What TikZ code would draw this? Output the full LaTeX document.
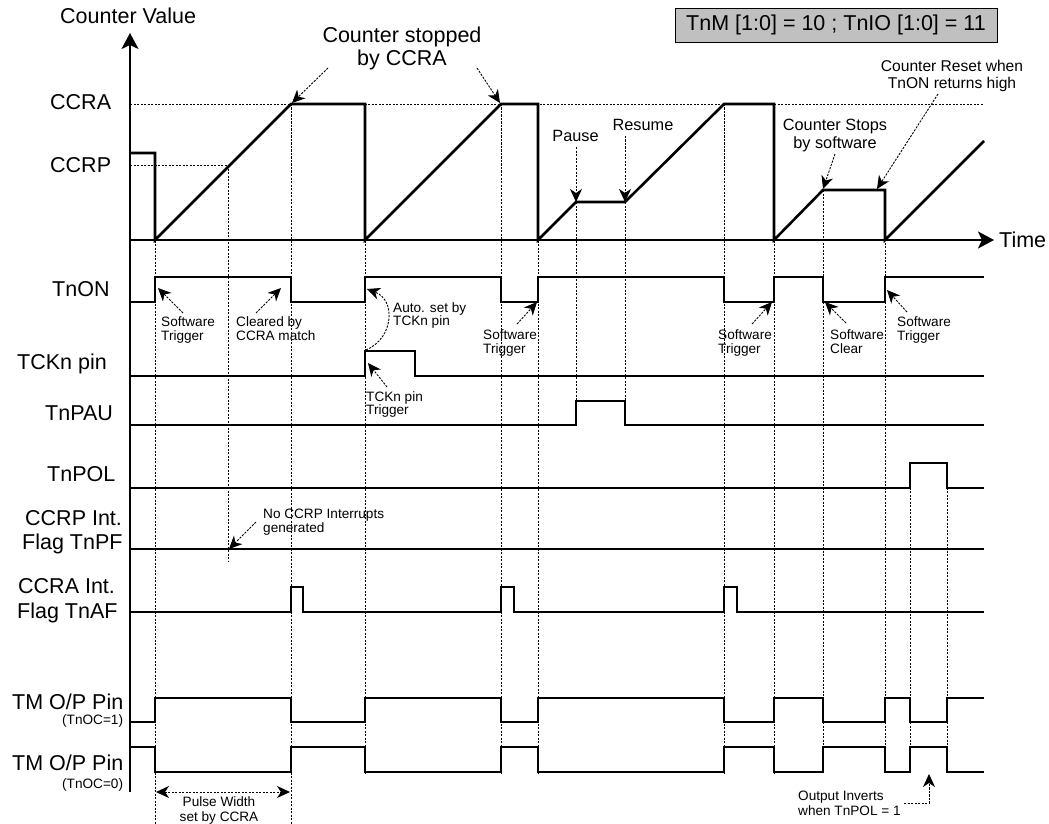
\documentclass[tikz,border=0pt]{standalone}
\usepackage{fontspec}
\setmainfont{Liberation Sans}
\usetikzlibrary{arrows.meta}
\definecolor{boxgray}{RGB}{192,192,192}
\tikzset{
  cnt/.style={line width=2.6pt, line join=miter},
  sig/.style={line width=1.8pt, line join=miter},
  guide/.style={line width=0.9pt, dash pattern=on 2.2pt off 1.3pt},
  ahead/.tip={Stealth[length=13pt,width=12pt,inset=4pt]},
  ann/.style={guide, -ahead},
  axisarrow/.style={line width=2pt, -{Stealth[length=16pt,width=17pt,inset=4pt]}},
  lab/.style={font=\fontsize{21.5}{24}\selectfont, inner sep=0pt, anchor=base west},
  mid/.style={font=\fontsize{16.3}{18}\selectfont, inner sep=0pt, anchor=base},
  midtight/.style={font=\fontsize{15.6}{17}\selectfont, inner sep=0pt, anchor=base},
  big/.style={font=\fontsize{21.5}{24}\selectfont, inner sep=0pt, anchor=base},
  small/.style={font=\fontsize{13.6}{15}\selectfont, inner sep=0pt, anchor=base west},
  smallc/.style={font=\fontsize{13.6}{15}\selectfont, inner sep=0pt, anchor=base}
}
\begin{document}
\begin{tikzpicture}[x=1pt,y=-1pt]
\useasboundingbox (0,0) rectangle (1049,824);

% ---------- dotted guide lines ----------
\draw[guide] (130,104) -- (983,104);
\draw[guide] (130,165) -- (228,165);
\draw[guide] (155,153) -- (155,824);
\draw[guide] (228,165) -- (228,562);
\draw[guide] (291,104) -- (291,824);
\foreach \x in {365,501,538,724,774} \draw[guide] (\x,104) -- (\x,773);
\draw[guide] (576,202) -- (576,425);
\draw[guide] (625,202) -- (625,425);
\foreach \x in {823,885} \draw[guide] (\x,190) -- (\x,773);
\foreach \x in {910,947} \draw[guide] (\x,463) -- (\x,773);

% ---------- axes ----------
\coordinate (origin) at (130,240);
\coordinate (ytip) at (130,33);
\coordinate (xtip) at (994,240);
\draw[axisarrow] (130,792) -- (ytip);
\draw[axisarrow] (origin) -- (xtip);
\node[lab] (time) at (999,247) {Time};
\node[lab] (cv) at (60,24) {Counter Value};

% ---------- counter waveform ----------
\draw[cnt] (130,153) -- (155,153) -- (155,240) -- (291,104) -- (365,104) -- (365,240)
  -- (501,104) -- (538,104) -- (538,240) -- (576,202) -- (625,202) -- (724,104)
  -- (774,104) -- (774,240) -- (823,190) -- (885,190) -- (885,240) -- (984,141);

% ---------- signals ----------
\draw[sig] (130,302) -- (155,302) -- (155,277) -- (291,277) -- (291,302) -- (365,302)
  -- (365,277) -- (501,277) -- (501,302) -- (538,302) -- (538,277) -- (724,277)
  -- (724,302) -- (774,302) -- (774,277) -- (823,277) -- (823,302) -- (885,302)
  -- (885,277) -- (984,277);
\draw[sig] (130,376) -- (365,376) -- (365,351) -- (415,351) -- (415,376) -- (984,376);
\draw[sig] (130,425) -- (576,425) -- (576,401) -- (625,401) -- (625,425) -- (984,425);
\draw[sig] (130,488) -- (910,488) -- (910,463) -- (947,463) -- (947,488) -- (984,488);
\draw[sig] (130,549) -- (984,549);
\draw[sig] (130,612) -- (291,612) -- (291,587) -- (303,587) -- (303,612) -- (501,612)
  -- (501,587) -- (514,587) -- (514,612) -- (724,612) -- (724,587) -- (737,587)
  -- (737,612) -- (984,612);
\draw[sig] (130,722) -- (155,722) -- (155,698) -- (291,698) -- (291,722) -- (365,722)
  -- (365,698) -- (501,698) -- (501,722) -- (538,722) -- (538,698) -- (724,698)
  -- (724,722) -- (774,722) -- (774,698) -- (823,698) -- (823,722) -- (885,722)
  -- (885,698) -- (910,698) -- (910,722) -- (947,722) -- (947,698) -- (984,698);
\draw[sig] (130,747) -- (155,747) -- (155,772) -- (291,772) -- (291,747) -- (365,747)
  -- (365,772) -- (501,772) -- (501,747) -- (538,747) -- (538,772) -- (724,772)
  -- (724,747) -- (774,747) -- (774,772) -- (823,772) -- (823,747) -- (885,747)
  -- (885,772) -- (910,772) -- (910,747) -- (947,747) -- (947,772) -- (984,772);

% ---------- left labels ----------
\node[lab] (lccra) at (50,110) {CCRA};
\node[lab] (lccrp) at (50,172) {CCRP};
\node[lab] (ltnon) at (52,296) {TnON};
\node[lab] (ltck) at (17,369) {TCKn pin};
\node[lab] (lpau) at (45,420) {TnPAU};
\node[lab] (lpol) at (47,481) {TnPOL};
\node[lab] (lpf1) at (25,525) {CCRP Int.};
\node[lab] (lpf2) at (22,549) {Flag TnPF};
\node[lab] (laf1) at (18,593) {CCRA Int.};
\node[lab] (laf2) at (17,618) {Flag TnAF};
\node[lab] (lop1) at (12,709) {TM O/P Pin};
\node[small] (loc1) at (62,724) {(TnOC=1)};
\node[lab] (lop2) at (12,770) {TM O/P Pin};
\node[small] (loc0) at (62,788) {(TnOC=0)};

% ---------- mode box ----------
\node[draw, fill=boxgray, line width=0.8pt, minimum width=322pt, minimum height=34pt,
  inner sep=0pt, font=\fontsize{21.5}{24}\selectfont] (mode) at (836,25)
  {TnM [1:0] = 10 ; TnIO [1:0] = 11};

% ---------- counter annotations ----------
\node[big] (cs1) at (402,43) {Counter stopped};
\node[big] (cs2) at (402,66) {by CCRA};
\coordinate (csL0) at (328,68); \coordinate (csL1) at (292,103);
\coordinate (csR0) at (477,68); \coordinate (csR1) at (500,103);
\draw[ann] (csL0) -- (csL1);
\draw[ann] (csR0) -- (csR1);

\node[mid] (pause) at (575.5,142) {Pause};
\node[mid] (resume) at (643,131) {Resume};
\coordinate (pa0) at (576,147); \coordinate (pa1) at (576,202);
\coordinate (re0) at (625,136); \coordinate (re1) at (625,202);
\draw[ann] (pa0) -- (pa1);
\draw[ann] (re0) -- (re1);

\node[mid] (st1) at (835,131) {Counter Stops};
\node[mid] (st2) at (835,149) {by software};
\coordinate (st0) at (835,154); \coordinate (stt) at (823,189);
\draw[ann] (st0) -- (stt);

\node[midtight] (rs1) at (952,72) {Counter Reset when};
\node[midtight] (rs2) at (952,89) {TnON returns high};
\coordinate (rs0) at (938,94); \coordinate (rst) at (877,189);
\draw[ann] (rs0) -- (rst);

% ---------- signal annotations ----------
\node[small] (sw1a) at (161,326) {Software};
\node[small] (sw1b) at (161,340) {Trigger};
\coordinate (sw1t) at (183,313); \coordinate (sw1h) at (158,288);
\draw[ann] (sw1t) -- (sw1h);

\node[small] (cl1) at (236,326) {Cleared by};
\node[small] (cl2) at (236,340) {CCRA match};
\coordinate (clt) at (256,313); \coordinate (clh) at (281,288);
\draw[ann] (clt) -- (clh);

\node[small] (au1) at (393,312) {Auto. set by};
\node[small] (au2) at (393,325) {TCKn pin};
\coordinate (aut) at (366,350); \coordinate (auh) at (367,289);
\draw[ann] (aut) .. controls (394,338) and (396,300) .. (auh);

\node[small] (tp1) at (366,401) {TCKn pin};
\node[small] (tp2) at (366,414) {Trigger};
\coordinate (tpt) at (387,387); \coordinate (tph) at (368,363);
\draw[ann] (tpt) -- (tph);

\node[small] (sw2a) at (483,339) {Software};
\node[small] (sw2b) at (483,353) {Trigger};
\coordinate (sw2t) at (517,324); \coordinate (sw2h) at (537,302);
\draw[ann] (sw2t) -- (sw2h);

\node[small] (sw3a) at (718,339) {Software};
\node[small] (sw3b) at (718,353) {Trigger};
\coordinate (sw3t) at (752,324); \coordinate (sw3h) at (772,302);
\draw[ann] (sw3t) -- (sw3h);

\node[small] (sc1) at (830,339) {Software};
\node[small] (sc2) at (830,353) {Clear};
\coordinate (sct) at (846,323); \coordinate (sch) at (825,302);
\draw[ann] (sct) -- (sch);

\node[small] (sw4a) at (897,326) {Software};
\node[small] (sw4b) at (897,340) {Trigger};
\coordinate (sw4t) at (907,312); \coordinate (sw4h) at (887,290);
\draw[ann] (sw4t) -- (sw4h);

\node[small] (nc1) at (263,518) {No CCRP Interrupts};
\node[small] (nc2) at (263,532) {generated};
\coordinate (nct) at (256,522); \coordinate (nch) at (229,549);
\draw[ann] (nct) -- (nch);

\node[smallc] (pw1) at (219,806) {Pulse Width};
\node[smallc] (pw2) at (219,821) {set by CCRA};
\coordinate (pwl) at (156,792); \coordinate (pwr) at (290,792);
\draw[guide, ahead-ahead] (pwl) -- (pwr);

\node[small] (oi1) at (798,800) {Output Inverts};
\node[small] (oi2) at (798,815) {when TnPOL = 1};
\coordinate (oit) at (904,803); \coordinate (oih) at (929,774);
\draw[ann] (oit) -| (oih);
\end{tikzpicture}
\end{document}
